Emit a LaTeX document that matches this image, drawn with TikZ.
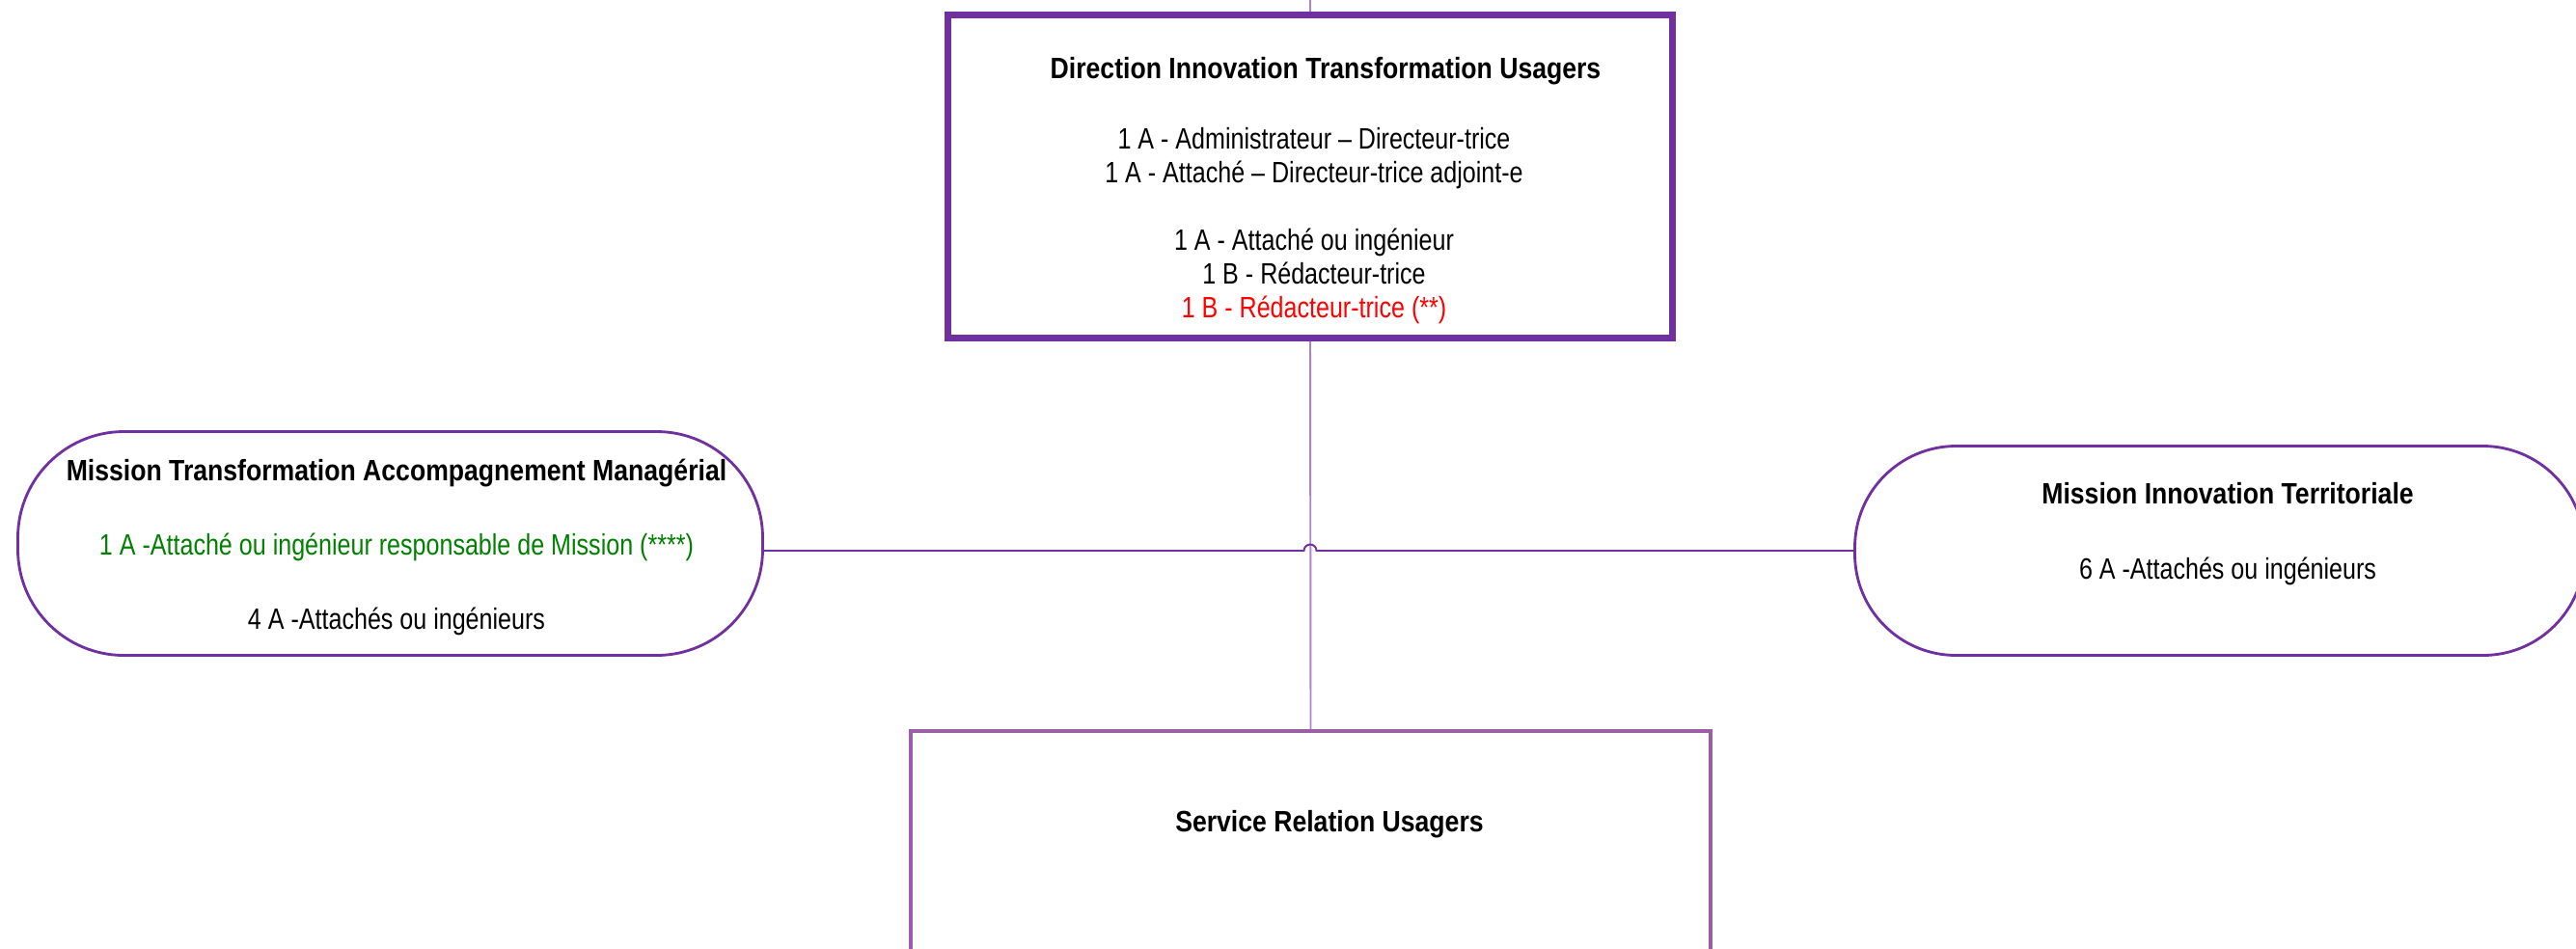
\documentclass[tikz,border=0pt]{standalone}
\usepackage{fontspec}
\setmainfont{Liberation Sans}[UprightFeatures={FakeStretch=0.82},BoldFeatures={FakeStretch=0.87}]
\definecolor{dirpurple}{HTML}{7030A0}
\definecolor{srvpurple}{RGB}{155,95,165}
\definecolor{vpurple}{RGB}{170,130,210}
\definecolor{misgreen}{HTML}{008000}
\tikzset{
  dirbox/.style={draw=dirpurple,fill=white,line width=2pt},
  misbox/.style={draw=dirpurple,fill=white,line width=0.8pt},
  srvbox/.style={draw=srvpurple,fill=white,line width=1.1pt},
  txt/.style={align=center,font=\fontsize{8.7}{10}\selectfont},
  vlink/.style={draw=vpurple,line width=0.55pt},
  hlink/.style={draw=dirpurple,line width=0.55pt}
}
\begin{document}
\begin{tikzpicture}
\useasboundingbox (0,0) rectangle (26.7,-9.83);
\clip (0,0) rectangle (26.7,-9.83);
\node[dirbox,minimum width=7.51cm,minimum height=3.35cm] (dir) at (13.58,-1.83) {};
\node[txt] (dirtxt) at (13.62,-1.975) {\hspace*{0.24cm}{\bfseries Direction Innovation Transformation Usagers}\\[10.8pt]
  1 A - Administrateur – Directeur-trice\\
  1 A - Attaché – Directeur-trice adjoint-e\\[9.9pt]
  1 A - Attaché ou ingénieur\\
  1 B - Rédacteur-trice\\
  \textcolor{red}{1 B - Rédacteur-trice (**)}};
\node[misbox,rounded corners=1.1cm,minimum width=7.72cm,minimum height=2.32cm] (mtam) at (4.045,-5.635) {};
\node[txt] (mtamtxt) at (4.11,-5.67) {{\bfseries Mission Transformation Accompagnement Managérial}\\[11.9pt]
  \textcolor{misgreen}{1 A -Attaché ou ingénieur responsable de Mission (****)}\\[11.9pt]
  4 A -Attachés ou ingénieurs};
\node[misbox,rounded corners=1.05cm,minimum width=7.56cm,minimum height=2.17cm] (mit) at (23.005,-5.71) {};
\node[txt] (mittxt) at (23.09,-5.535) {{\bfseries Mission Innovation Territoriale}\\[12.2pt]
  6 A -Attachés ou ingénieurs};
\node[srvbox,minimum width=8.29cm,minimum height=4cm,anchor=north] (srv) at (13.585,-7.56) {};
\node[txt] (srvtxt) at (13.78,-8.545) {\bfseries Service Relation Usagers};
\coordinate (top) at (13.58,0);
\coordinate (hop) at (dir.south |- mit.west);
\draw[vlink] (top) -- (dir.north);
\draw[vlink] (dir.south) -- (srv.north);
\draw[hlink] (mtam.east |- hop) -- ([xshift=-0.065cm]hop) arc[start angle=180,end angle=0,radius=0.065cm] -- (mit.west);
\end{tikzpicture}
\end{document}
